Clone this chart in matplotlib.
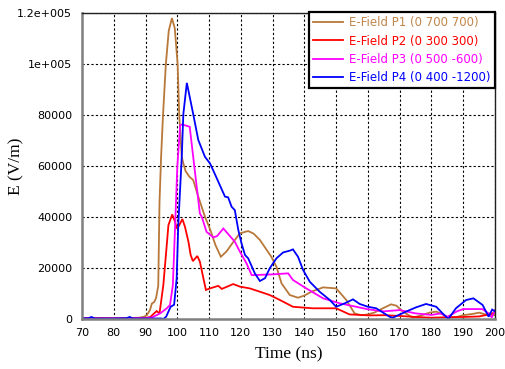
import matplotlib
matplotlib.use("Agg")
import matplotlib.pyplot as plt
from matplotlib.ticker import FixedLocator

# ---------------- data ----------------
p1_t = [70, 75, 80, 85, 88, 89.5, 90.4, 91.4, 92, 92.7, 93.3, 94.0, 94.4, 94.9, 95.5, 96.4,
        97.3, 98.3, 99.2, 100.1, 100.6, 101.4, 101.9, 102.6, 103.8, 105, 106.6, 108.7, 110,
        110.6, 112, 113.7, 115.5, 117.5, 119.7, 122.3, 124, 126, 129.6, 131.2, 132.8, 135.4,
        138, 140, 142.2, 145.9, 150, 153.2, 155.8, 157.9, 160, 162, 164.7, 167.3, 169, 171,
        174.1, 177, 179.4, 181.5, 183.5, 185.6, 188, 190, 193, 195, 197, 200]
p1_e = [300, 400, 300, 400, 500, 900, 1500, 3500, 6100, 6600, 8200, 13000, 46000, 63600, 80000,
        100000, 113000, 118000, 114000, 100000, 80000, 63600, 61000, 58000, 55800, 54500, 48000,
        40100, 36200, 34200, 29000, 24400, 26500, 30000, 33600, 34500, 33500, 31000, 24400, 20500,
        14000, 9400, 8350, 9200, 10700, 12400, 12000, 7450, 2200, 1450, 1800, 2500, 4200, 5750,
        5200, 2900, 500, 1500, 2500, 2900, 1800, 500, 800, 1500, 2000, 2500, 1800, 1500]

p2_t = [70, 75, 80, 85, 88, 90, 91.5, 92.7, 93.5, 94.4, 95.6, 96.5, 97.2, 98.4, 99.3, 99.8,
        100.5, 101.6, 102.4, 103.5, 104.2, 104.9, 106.3, 107.1, 108, 109, 110.3, 112.9, 114,
        117.6, 119.7, 122.8, 126, 129.1, 132.3, 136.4, 142.6, 150, 154.2, 160.5, 165, 170,
        175, 180, 185, 190, 195, 197, 200]
p2_e = [300, 300, 200, 300, 300, 400, 800, 2200, 3100, 2200, 13300, 26400, 36800, 41000, 38100,
        35500, 36500, 39200, 36200, 30300, 25100, 22700, 24700, 22500, 17200, 11400, 12000,
        13000, 11800, 13700, 12700, 12000, 10700, 9400, 7450, 4800, 4200, 4200, 1800, 1400,
        1500, 1200, 800, 500, 700, 800, 1000, 1500, 2500]

p3_t = [70, 80, 90, 92, 94.6, 96.7, 97.7, 98.6, 99.0, 99.3, 100.0, 100.9, 101.5, 103.9, 105,
        106.1, 107.1, 107.7, 109.2, 111.3, 112.5, 114.5, 118.1, 119.7, 121.8, 123.4, 130,
        134.9, 136.4, 140.6, 145.9, 151.1, 156.3, 160, 165, 170, 175, 180, 183, 185, 188, 190,
        196, 198, 199, 200]
p3_e = [200, 200, 300, 600, 2200, 4200, 5500, 13300, 26400, 36200, 59700, 76000, 76300, 75400,
        63600, 51900, 41400, 40100, 34200, 32000, 32500, 35500, 30300, 26400, 21800, 17200,
        17500, 17900, 15300, 12000, 8100, 6150, 4800, 3800, 3000, 3500, 2200, 1600, 2200, 800,
        3000, 3900, 3900, 2200, 600, 3500]

p4_t = [70, 72, 73, 74, 80, 84, 85, 86, 90, 95, 95.6, 96.5, 97.2, 97.9, 99, 99.8, 100.3, 101.4,
        101.9, 103, 105, 106.6, 108.7, 110.3, 112.2, 115, 116, 117.1, 118.1, 119.2, 120.2,
        121.3, 122.3, 124.4, 126, 127.6, 129.1, 131.2, 133.3, 135.4, 136.4, 138, 139.6, 141.7,
        144.8, 148, 150, 152.7, 155.3, 157.4, 160, 162.6, 166.8, 167.8, 172, 175, 178.3, 181.5,
        183.5, 185.3, 187.7, 190.9, 193.2, 196.1, 198, 199.1, 200]
p4_e = [200, 300, 800, 200, 200, 300, 800, 200, 200, 200, 0, 900, 2900, 4800, 5600, 16000,
        36800, 63600, 80400, 92600, 80400, 70200, 63600, 61000, 55800, 48000, 47700, 44000,
        42700, 34900, 29700, 25100, 23800, 17900, 14900, 16000, 19900, 23800, 26100, 26800,
        27300, 24400, 19200, 14600, 10700, 7450, 4800, 6150, 7700, 5900, 4800, 4200, 900, 500,
        2900, 4500, 5900, 4800, 2200, 0, 4200, 7450, 8100, 5500, 900, 3700, 3000]

series_labels = ["E-Field P1 (0 700 700)", "E-Field P2 (0 300 300)",
                 "E-Field P3 (0 500 -600)", "E-Field P4 (0 400 -1200)"]
x_ticks = [70, 80, 90, 100, 110, 120, 130, 140, 150, 160, 170, 180, 190, 200]
y_ticks = [0, 20000, 40000, 60000, 80000, 100000, 120000]
y_tick_labels = ["0", "20000", "40000", "60000", "80000", "1e+005", "1.2e+005"]

# ---------------- plot ----------------
colors = ["#B8783A", "#FF0000", "#FF00FF", "#0000FF"]
text_colors = ["#C0864B", "#FF0000", "#FF00FF", "#0000FF"]

fig = plt.figure(figsize=(5.05, 3.69), dpi=100)
ax = fig.add_axes([82 / 505, 1 - 319 / 369, (495 - 82) / 505, (319 - 13) / 369])

series = [(p1_t, p1_e), (p2_t, p2_e), (p3_t, p3_e), (p4_t, p4_e)]
for (t, e), c, lab in zip(series, colors, series_labels):
    ax.plot(t, e, color=c, lw=1.3, label=lab, solid_joinstyle="miter")

ax.set_xlim(70, 200)
ax.set_ylim(0, 120000)
ax.xaxis.set_major_locator(FixedLocator(x_ticks))
ax.set_yticks(y_ticks)
ax.set_yticklabels(y_tick_labels)
ax.tick_params(axis="both", length=0, labelsize=8, colors="black")
ax.tick_params(axis="x", pad=6.5)
ax.tick_params(axis="y", pad=7)
for lbl in ax.get_xticklabels() + ax.get_yticklabels():
    lbl.set_family("DejaVu Sans")

ax.grid(True, color="black", linestyle=(0, (2, 2)), linewidth=0.8)

ax.spines["left"].set_color("#808080")
ax.spines["left"].set_linewidth(1.8)
ax.spines["bottom"].set_color("#808080")
ax.spines["bottom"].set_linewidth(1.8)
ax.spines["top"].set_color("#202020")
ax.spines["top"].set_linewidth(1.0)
ax.spines["right"].set_color("#202020")
ax.spines["right"].set_linewidth(1.0)

ax.set_xlabel("Time (ns)", family="Liberation Serif", fontsize=12.5)
ax.set_ylabel("E (V/m)", family="Liberation Serif", fontsize=12.5)
ax.xaxis.set_label_coords(0.5, -(346 - 319) / 306)
ax.yaxis.set_label_coords(-(82 - 24) / 413, 0.5)

leg = ax.legend(loc="upper right", bbox_to_anchor=(1.0, 1.003), borderaxespad=0,
                fontsize=8.5, handlelength=2.6, handletextpad=0.5, labelspacing=0.45,
                fancybox=False, framealpha=1, edgecolor="black", borderpad=0.35)
leg.get_frame().set_linewidth(1.6)
for txt, c in zip(leg.get_texts(), text_colors):
    txt.set_color(c)
for h in leg.get_lines():
    h.set_linewidth(1.3)

fig.savefig("out.png", dpi=100)
